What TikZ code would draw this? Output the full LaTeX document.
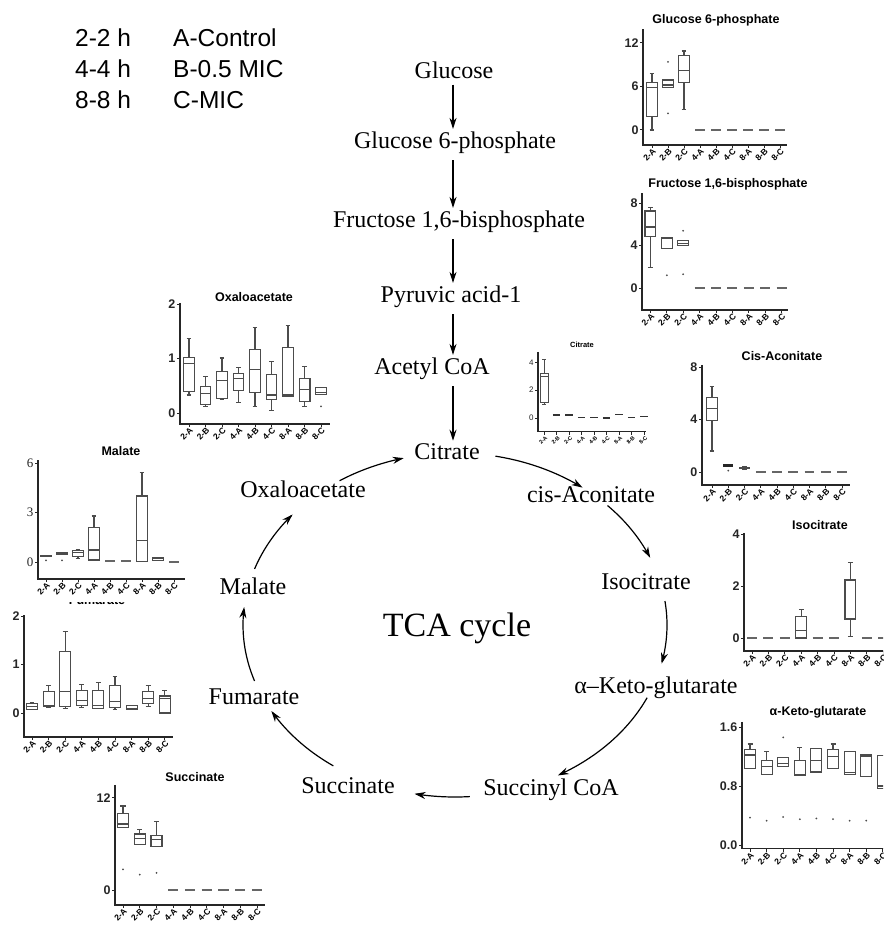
\documentclass[tikz,border=0pt]{standalone}
\usepackage{fontspec}
\setmainfont{Liberation Serif}
\setsansfont{Liberation Sans}
\usetikzlibrary{arrows.meta}
\tikzset{
 pw/.style={font=\fontsize{24}{28}\selectfont, inner sep=1pt},
 leg/.style={font=\sffamily\fontsize{24.5}{28}\selectfont, anchor=west, inner sep=0pt},
 ctitle/.style={font=\sffamily\bfseries\fontsize{12.5}{14}\selectfont, inner sep=0pt},
 tick/.style={font=\sffamily\bfseries\fontsize{12.5}{14}\selectfont, inner sep=1pt, anchor=east},
 catl/.style={font=\sffamily\bfseries\fontsize{8.5}{9}\selectfont, inner sep=0pt, rotate=45, anchor=east},
 axl/.style={line width=1.6pt, black!85},
 tkl/.style={line width=1pt, black!85},
 bxs/.style={line width=1.1pt, black!70},
 dsh/.style={line width=1.8pt, black!60},
 arr/.style={line width=1.2pt, -{Stealth[length=11pt,width=7pt]}},
}
\newcommand\bx[6]{%
 \draw[bxs] (#1-0.33,#3) rectangle (#1+0.33,#5) (#1-0.33,#4) -- (#1+0.33,#4)
   (#1,#5) -- (#1,#6) (#1-0.15,#6) -- (#1+0.15,#6)
   (#1,#3) -- (#1,#2) (#1-0.15,#2) -- (#1+0.15,#2);}
\newcommand\dz[2]{\draw[dsh] (#1-0.3,#2) -- (#1+0.3,#2);}
\newcommand\ot[2]{\fill[black!70] (#1,#2) circle (1pt);}
\newcommand\axes[5]{%
 \draw[axl] (#1,#3) -- (#1,#2) -- (#4,#2);
 \foreach \v/\l in {#5} {\draw[tkl] (#1,\v) -- ++(-3pt,0) node[tick]{\l};}
 \foreach \i/\c in {1/2-A,2/2-B,3/2-C,4/4-A,5/4-B,6/4-C,7/8-A,8/8-B,9/8-C}
   {\draw[tkl] (\i,#2) -- ++(0,-3pt) coordinate (tk);
    \node[catl] at ([xshift=2.5pt,yshift=-2pt]tk) {\c};}
}
\begin{document}
\begin{tikzpicture}[x=1pt,y=-1pt]
\useasboundingbox (0,0) rectangle (883,925);
\clip (0,0) rectangle (883,925);
\fill[white] (0,0) rectangle (883,925);

% legend
\node[leg] (l1a) at (75,38) {2-2 h};
\node[leg] (l1b) at (173,38) {A-Control};
\node[leg] (l2a) at (75,69) {4-4 h};
\node[leg] (l2b) at (173,69) {B-0.5 MIC};
\node[leg] (l3a) at (75,100) {8-8 h};
\node[leg] (l3b) at (173,100) {C-MIC};

% pathway
\node[pw] (glc) at (454,70) {Glucose};
\node[pw] (g6p) at (455,143) {Glucose 6-phosphate};
\node[pw] (f16) at (459,222) {Fructose 1,6-bisphosphate};
\node[pw] (pyr) at (451,297) {Pyruvic acid-1};
\node[pw] (aco) at (432,369) {Acetyl CoA};
\node[pw] (cit) at (447,452) {Citrate};
\coordinate (ax) at (453,0);
\draw[arr,shorten <=5pt,shorten >=2pt] (glc.south -| ax) -- (g6p.north -| ax);
\draw[arr,shorten <=5pt,shorten >=2pt] (g6p.south -| ax) -- (f16.north -| ax);
\draw[arr,shorten <=5pt,shorten >=2pt] (f16.south -| ax) -- (pyr.north -| ax);
\draw[arr,shorten <=5pt,shorten >=2pt] (pyr.south -| ax) -- (aco.north -| ax);
\draw[arr,shorten <=5pt,shorten >=2pt] (aco.south -| ax) -- (cit.north -| ax);

\node[pw] (cis) at (591,495) {cis-Aconitate};
\node[pw] (iso) at (646,582) {Isocitrate};
\node[pw] (akg) at (656,688) {α–Keto-glutarate};
\node[pw] (suc) at (551,790) {Succinyl CoA};
\node[pw] (sca) at (348,786) {Succinate};
\node[pw] (fum) at (254,697) {Fumarate};
\node[pw] (mal) at (253,586) {Malate};
\node[pw] (oxa) at (303,489) {Oxaloacetate};
\node[font=\fontsize{34}{38}\selectfont] (tca) at (457,628) {TCA cycle};

\foreach \a/\b in {123/104, 79/53, 44/23, 8/-13, -25/-61, -86/-101, -125/-150, -161/-186, 161/140}
  \draw[arr] plot[domain=\a:\b, samples=25, smooth, variable=\t] ({455+212*cos(\t)},{625-172*sin(\t)});

% ---- Glucose 6-phosphate chart
\node[ctitle] (t1) at (716,20) {Glucose 6-phosphate};
\begin{scope}[shift={(636,130)}, x=16pt, y=7.25pt]
 \axes{0.44}{-2.07}{13.9}{9.44}{0/0,6/6,12/12}
 \bx{1}{0}{1.9}{5.9}{6.5}{7.8}
 \bx{2}{5.8}{5.8}{6.2}{6.9}{6.9} \ot{2}{9.4} \ot{2}{2.3}
 \bx{3}{2.8}{6.5}{8.2}{10.3}{10.9}
 \foreach \i in {4,...,9} {\dz{\i}{0}}
\end{scope}

% ---- Fructose chart
\node[ctitle] (t2) at (728,184) {Fructose 1,6-bisphosphate};
\begin{scope}[shift={(634,288)}, x=16.4pt, y=10.6pt]
 \axes{0.49}{-2.08}{8.96}{9.39}{0/0,4/4,8/8}
 \bx{1}{1.9}{4.9}{5.75}{7.26}{7.6}
 \bx{2}{3.7}{3.7}{4.7}{4.8}{4.8} \ot{2}{1.2}
 \bx{3}{4.0}{4.0}{4.2}{4.5}{4.5} \ot{3}{5.4} \ot{3}{1.3}
 \foreach \i in {4,...,9} {\dz{\i}{0}}
\end{scope}

% ---- Oxaloacetate chart
\node[ctitle] (t3) at (254,297) {Oxaloacetate};
\begin{scope}[shift={(172.5,413)}, x=16.5pt, y=54.5pt]
 \axes{0.45}{-0.2}{2.02}{9.55}{0/0,1/1,2/2}
 \bx{1}{0.33}{0.39}{0.91}{1.02}{1.37}
 \bx{2}{0.12}{0.15}{0.36}{0.48}{0.67}
 \bx{3}{0.25}{0.27}{0.59}{0.76}{1.01}
 \bx{4}{0.2}{0.42}{0.64}{0.73}{0.84}
 \bx{5}{0.12}{0.37}{0.79}{1.17}{1.57}
 \bx{6}{0.04}{0.24}{0.33}{0.71}{0.95}
 \bx{7}{0.3}{0.3}{0.33}{1.2}{1.61}
 \bx{8}{0.12}{0.21}{0.43}{0.64}{0.86}
 \bx{9}{0.34}{0.34}{0.37}{0.47}{0.47} \ot{9}{0.12}
\end{scope}

% ---- Citrate chart (small)
\node[ctitle, font=\sffamily\bfseries\fontsize{7.5}{8}\selectfont] (t4) at (582,345) {Citrate};
\begin{scope}[shift={(531.5,418)}, x=12.5pt, y=13.9pt,
  tick/.append style={font=\sffamily\fontsize{8}{9}\selectfont},
  catl/.append style={font=\sffamily\bfseries\fontsize{5.5}{6}\selectfont},
  axl/.append style={line width=1.1pt}, bxs/.append style={line width=0.7pt},
  dsh/.append style={line width=1.6pt, black!80}]
 \axes{0.52}{-1.0}{4.75}{9.16}{0/0,2/2,4/4}
 \bx{1}{1.0}{1.15}{2.97}{3.24}{4.2}
 \dz{2}{0.2} \dz{3}{0.2} \dz{4}{0.05} \dz{5}{0.05} \dz{6}{0} \dz{7}{0.25} \dz{8}{0.05} \dz{9}{0.1}
\end{scope}

% ---- Cis-Aconitate chart
\node[ctitle] (t5) at (782,356) {Cis-Aconitate};
\begin{scope}[shift={(695.75,472)}, x=16.25pt, y=13.1pt]
 \axes{0.38}{-1.0}{8.17}{9.5}{0/0,4/4,8/8}
 \bx{1}{1.6}{3.9}{4.87}{5.7}{6.5}
 \draw[line width=2.2pt, black!85] (2-0.3,0.5) -- (2+0.3,0.5); \ot{2}{0.1}
 \bx{3}{0.2}{0.25}{0.3}{0.35}{0.4}
 \foreach \i in {4,...,9} {\dz{\i}{0}}
\end{scope}

% ---- Fumarate chart
\node[ctitle] (t7) at (97,600) {Fumarate};
\fill[white] (0,586) rectangle (200,602);
\begin{scope}[shift={(15.4,713)}, x=16.6pt, y=48.5pt]
 \axes{0.52}{-0.49}{2.02}{9.49}{0/0,1/1,2/2}
 \bx{1}{0.08}{0.08}{0.13}{0.2}{0.22}
 \bx{2}{0.12}{0.13}{0.16}{0.44}{0.56}
 \bx{3}{0.1}{0.13}{0.44}{1.26}{1.68}
 \bx{4}{0.12}{0.16}{0.25}{0.47}{0.59}
 \bx{5}{0.1}{0.1}{0.16}{0.47}{0.62}
 \bx{6}{0.08}{0.12}{0.23}{0.56}{0.75}
 \bx{7}{0.08}{0.08}{0.1}{0.15}{0.15}
 \bx{8}{0.14}{0.2}{0.3}{0.44}{0.56}
 \bx{9}{0}{0}{0.3}{0.35}{0.47}
\end{scope}

% ---- Malate chart
\node[ctitle] (t6) at (121,451) {Malate};
\begin{scope}[shift={(30,562)}, x=16pt, y=16.5pt,
  tick/.append style={font=\rmfamily\fontsize{13}{14}\selectfont}]
 \axes{0.5}{-1.03}{6.18}{9.69}{0/0,3/3,6/6}
 \bx{1}{0.33}{0.33}{0.38}{0.42}{0.42} \ot{1}{0.1}
 \bx{2}{0.45}{0.45}{0.5}{0.55}{0.55} \ot{2}{0.1}
 \bx{3}{0.2}{0.33}{0.6}{0.69}{0.75}
 \bx{4}{0.1}{0.12}{0.73}{2.1}{2.79}
 \dz{5}{0.05} \dz{6}{0.05}
 \bx{7}{0.02}{0.02}{1.33}{4.0}{5.4}
 \bx{8}{0.1}{0.1}{0.2}{0.3}{0.3}
 \dz{9}{0}
\end{scope}

% ---- Isocitrate chart
\node[ctitle] (t8) at (820,525) {Isocitrate};
\begin{scope}[shift={(735.6,638)}, x=16.4pt, y=26pt]
 \axes{0.51}{-0.5}{4.04}{10}{0/0,2/2,4/4}
 \dz{1}{0} \dz{2}{0} \dz{3}{0}
 \bx{4}{0}{0}{0.3}{0.82}{1.1}
 \dz{5}{0} \dz{6}{0}
 \bx{7}{0.05}{0.73}{2.2}{2.23}{2.9}
 \dz{8}{0} \dz{9}{0}
\end{scope}

% ---- alpha-Keto-glutarate chart
\node[ctitle] (t9) at (818,712) {α-Keto-glutarate};
\begin{scope}[shift={(733.4,845)}, x=16.6pt, y=73.75pt]
 \axes{0.5}{-0.05}{1.67}{10}{0/0.0,0.8/0.8,1.6/1.6}
 \bx{1}{1.04}{1.04}{1.22}{1.3}{1.37} \ot{1}{0.37}
 \bx{2}{0.96}{0.96}{1.07}{1.15}{1.27} \ot{2}{0.33}
 \bx{3}{1.07}{1.07}{1.1}{1.19}{1.19} \ot{3}{1.46} \ot{3}{0.38}
 \bx{4}{0.94}{0.94}{0.96}{1.15}{1.32} \ot{4}{0.35}
 \bx{5}{0.99}{0.99}{1.14}{1.31}{1.31} \ot{5}{0.36}
 \bx{6}{1.04}{1.04}{1.2}{1.29}{1.37} \ot{6}{0.35}
 \bx{7}{0.96}{0.96}{0.98}{1.27}{1.27} \ot{7}{0.33}
 \bx{8}{0.93}{0.93}{1.2}{1.22}{1.22} \ot{8}{0.33}
 \bx{9}{0.77}{0.77}{0.8}{1.21}{1.21}
\end{scope}

% ---- Succinate chart
\node[ctitle] (t10) at (195,777) {Succinate};
\begin{scope}[shift={(106.25,890)}, x=16.75pt, y=7.67pt]
 \axes{0.52}{-1.96}{13.7}{9.5}{0/0,12/12}
 \bx{1}{8.2}{8.2}{8.6}{10.0}{10.95} \ot{1}{2.7}
 \bx{2}{5.9}{5.9}{6.7}{7.3}{7.9} \ot{2}{2.0}
 \bx{3}{5.65}{5.65}{6.6}{7.1}{8.9} \ot{3}{2.25}
 \foreach \i in {4,...,9} {\dz{\i}{0}}
\end{scope}
\end{tikzpicture}
\end{document}
